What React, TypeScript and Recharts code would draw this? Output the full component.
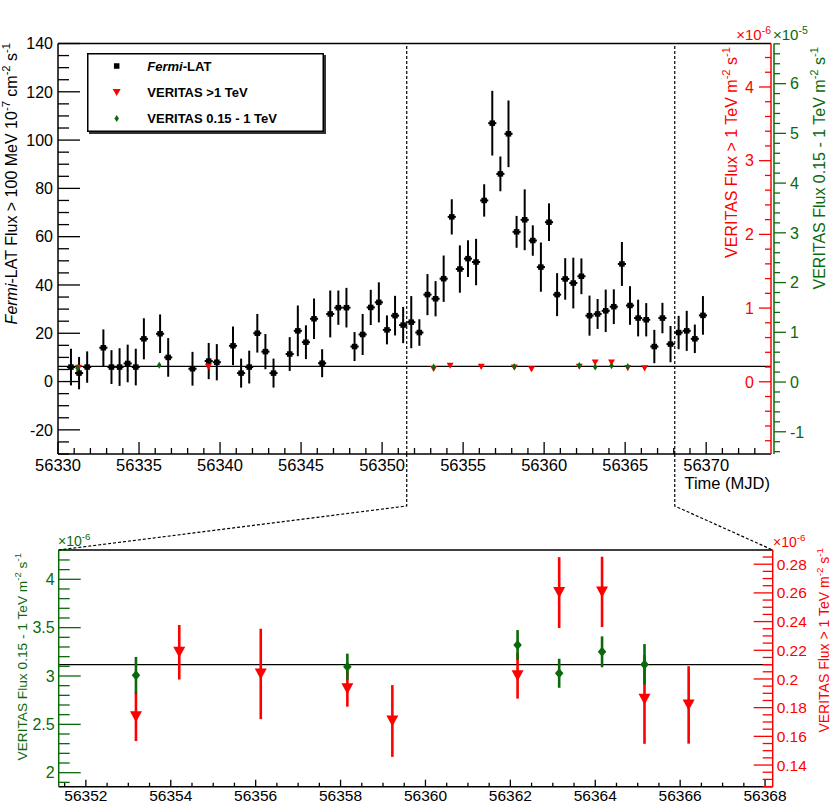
import React from 'react';
import { ComposedChart, Scatter, XAxis, YAxis, ErrorBar, ReferenceLine, Legend } from 'recharts';

const FONT = '"Liberation Sans", Arial, Helvetica, sans-serif';
const BLACK = '#000000';
const RED = '#ff0000';
const GREEN = '#0a6a0a';

const W = 831;
const H = 803;

// Fermi-LAT, 12 h bins (bin centre, MJD); flux > 100 MeV in 1e-7 cm^-2 s^-1
const FERMI_MJD = [
  56330.8, 56331.3, 56331.8, 56332.8, 56333.3, 56333.8, 56334.3, 56334.8, 56335.3, 56336.3,
  56336.8, 56338.3, 56339.3, 56339.8, 56340.8, 56341.3, 56341.8, 56342.3, 56342.8, 56343.3,
  56344.3, 56344.8, 56345.3, 56345.8, 56346.3, 56346.8, 56347.3, 56347.8, 56348.3, 56348.8,
  56349.3, 56349.8, 56350.3, 56350.8, 56351.3, 56351.8, 56352.3, 56352.8, 56353.3, 56353.8,
  56354.3, 56354.8, 56355.3, 56355.8, 56356.3, 56356.8, 56357.3, 56357.8, 56358.3, 56358.8,
  56359.3, 56359.8, 56360.3, 56360.8, 56361.3, 56361.8, 56362.3, 56362.8, 56363.3, 56363.8,
  56364.3, 56364.8, 56365.3, 56365.8, 56366.3, 56366.8, 56367.3, 56367.8, 56368.3, 56368.8,
  56369.3, 56369.8,
];
const FERMI_FLUX = [
  6, 3.5, 6, 14, 6, 6, 7.5, 6, 17.7, 19.8,
  10, 5.3, 8.5, 8, 14.8, 3.5, 6, 20, 12.4, 3.5,
  11.4, 21, 16.3, 26, 7.6, 28, 30.6, 30.6, 14.5, 19.5,
  30.7, 32.8, 21.4, 27.3, 23.4, 24.6, 20.3, 36, 34.3, 42.6,
  68.2, 46.6, 50.9, 49.5, 75, 107, 86, 102.6, 62, 67,
  58.4, 47.4, 66, 36, 42.5, 40.8, 43.6, 27.3, 28, 29.3,
  31, 48.7, 31.5, 26.3, 25.6, 14.5, 26.3, 15.5, 20.3, 21,
  17.7, 27.4,
];
const FERMI_ERR = [
  7.6, 6.7, 6.5, 7.6, 7, 7.8, 7.8, 7.6, 8.5, 8,
  8, 7, 7.5, 7.5, 8, 6, 6.8, 8, 7.3, 6,
  7, 10.5, 7, 8.4, 5.8, 9.7, 7.1, 8.2, 6, 8.5,
  7.3, 8.3, 6, 8.2, 7.5, 10.8, 5.5, 8.5, 7.3, 9.6,
  7.3, 9.8, 7.6, 9.6, 6.7, 13.4, 7.2, 13.8, 6.6, 12.6,
  6.3, 10.2, 7.8, 8.9, 8.6, 10.5, 7.4, 8.3, 6.2, 8.8,
  7.2, 9.1, 8, 7.6, 6.9, 6.9, 6.3, 7.5, 6.9, 8.3,
  5.9, 8,
];
const FERMI_HALF_BIN = 0.25;

// VERITAS > 1 TeV, flux in 1e-6 m^-2 s^-1
const VHE_MJD = [56331.27, 56339.28, 56353.18, 56354.2, 56356.12, 56358.16, 56359.22, 56362.17, 56363.15, 56364.16, 56365.16, 56366.2];
const VHE_FLUX = [0.19, 0.203, 0.1737, 0.2186, 0.2035, 0.1932, 0.1707, 0.2023, 0.2602, 0.2607, 0.1858, 0.1819];
const VHE_ERR = [0.02, 0.02, 0.017, 0.019, 0.0315, 0.0125, 0.025, 0.016, 0.0247, 0.0245, 0.031, 0.027];

// VERITAS 0.15 - 1 TeV, flux in 1e-6 m^-2 s^-1
const HE_MJD = [56331.2, 56336.25, 56353.18, 56358.16, 56362.17, 56363.15, 56364.16, 56365.16];
const HE_FLUX = [2.8, 3.35, 3.007, 3.096, 3.32, 3.028, 3.25, 3.12];
const HE_ERR = [0.2, 0.2, 0.19, 0.135, 0.155, 0.15, 0.16, 0.21];

// constant fit (> 1 TeV scale, 1e-6)
const FIT_LEVEL = 0.21;
// edges of the zoomed window marked on the upper panel
const ZOOM_MARKS = [56351.52, 56368.06];

// upper panel axes
const TOP_X_DOMAIN = [56330, 56374];
const TOP_X_MAJOR = [56330, 56335, 56340, 56345, 56350, 56355, 56360, 56365, 56370];
const FERMI_DOMAIN = [-30, 140];
const FERMI_MAJOR = [-20, 0, 20, 40, 60, 80, 100, 120, 140];
const TOP_VHE_DOMAIN = [-0.98, 4.59];
const TOP_VHE_MAJOR = [0, 1, 2, 3, 4];
const TOP_HE_DOMAIN = [-14.47, 68.07]; // 1e-6 units, labelled in 1e-5
const TOP_HE_MAJOR = [-10, 0, 10, 20, 30, 40, 50, 60];

// lower panel axes
const BOT_X_DOMAIN = [56351.36, 56368.18];
const BOT_X_MAJOR = [56352, 56354, 56356, 56358, 56360, 56362, 56364, 56366, 56368];
const BOT_HE_DOMAIN = [1.855, 4.303];
const BOT_HE_MAJOR = [2, 2.5, 3, 3.5, 4];
const BOT_VHE_DOMAIN = [0.1249, 0.2899];
const BOT_VHE_MAJOR = [0.14, 0.16, 0.18, 0.2, 0.22, 0.24, 0.26, 0.28];

const TOP_PLOT = { left: 58, right: 771, top: 43.5, bottom: 454 };
const BOT_OFFSET = 500;
const BOT_PLOT = { left: 58.7, right: 772.7, top: 550, bottom: 786.7 };

const fermiData = FERMI_MJD.map((x, i) => ({ x, y: FERMI_FLUX[i], err: FERMI_ERR[i], xErr: FERMI_HALF_BIN }));
const vheData = VHE_MJD.map((x, i) => ({ x, y: VHE_FLUX[i], err: VHE_ERR[i] }));
const heData = HE_MJD.map((x, i) => ({ x, y: HE_FLUX[i], err: HE_ERR[i] }));
const inBottom = (p: { x: number }) => p.x >= BOT_X_DOMAIN[0] && p.x <= BOT_X_DOMAIN[1];

function tickList(lo: number, hi: number, step: number): number[] {
  const out: number[] = [];
  const first = Math.ceil(lo / step - 1e-6);
  const last = Math.floor(hi / step + 1e-6);
  for (let i = first; i <= last; i++) out.push(Number((i * step).toFixed(6)));
  return out;
}

const isMajor = (v: number, majors: number[]) => majors.some((m) => Math.abs(m - v) < 1e-6);
const fmt = (v: number) => String(Number(v.toFixed(3)));

type YTickOpts = {
  majors: number[];
  dir: 1 | -1;
  majorLen: number;
  minorLen: number;
  labelDx: number;
  anchor: 'start' | 'end';
  color: string;
  fontSize: number;
  label?: (v: number) => string;
};

function makeYTick(o: YTickOpts) {
  return (props: any) => {
    const { x, y, payload } = props;
    const v = payload.value as number;
    const major = isMajor(v, o.majors);
    return (
      <g>
        <line x1={x} y1={y} x2={x + o.dir * (major ? o.majorLen : o.minorLen)} y2={y} stroke={o.color} strokeWidth={1.3} />
        {major && (
          <text x={x + o.labelDx} y={y} dy="0.36em" textAnchor={o.anchor} fill={o.color} fontSize={o.fontSize} fontFamily={FONT}>
            {o.label ? o.label(v) : fmt(v)}
          </text>
        )}
      </g>
    );
  };
}

function makeXTick(majors: number[], majorLen: number, minorLen: number, labelDy: number, fontSize: number) {
  return (props: any) => {
    const { x, y, payload } = props;
    const v = payload.value as number;
    const major = isMajor(v, majors);
    return (
      <g>
        <line x1={x} y1={y} x2={x} y2={y - (major ? majorLen : minorLen)} stroke={BLACK} strokeWidth={1.3} />
        {major && (
          <text x={x} y={y + labelDy} textAnchor="middle" fill={BLACK} fontSize={fontSize} fontFamily={FONT}>
            {fmt(v)}
          </text>
        )}
      </g>
    );
  };
}

const square = (p: any) => <rect x={p.cx - 2.75} y={p.cy - 2.75} width={5.5} height={5.5} fill={BLACK} />;
const triangle = (w: number, h: number) => (p: any) => (
  <polygon points={`${p.cx - w / 2},${p.cy - h / 2} ${p.cx + w / 2},${p.cy - h / 2} ${p.cx},${p.cy + h / 2}`} fill={RED} />
);
const diamond = (w: number, h: number) => (p: any) => (
  <polygon points={`${p.cx},${p.cy - h / 2} ${p.cx + w / 2},${p.cy} ${p.cx},${p.cy + h / 2} ${p.cx - w / 2},${p.cy}`} fill={GREEN} />
);

type Seg = { t: string; sup?: boolean; italic?: boolean };

function rich(segs: Seg[], size: number) {
  let raised = false;
  return segs.map((s, i) => {
    let dy: number | undefined;
    if (s.sup && !raised) {
      dy = -size * 0.42;
      raised = true;
    } else if (!s.sup && raised) {
      dy = size * 0.42;
      raised = false;
    }
    return (
      <tspan key={i} dy={dy} fontSize={s.sup ? size * 0.7 : size} fontStyle={s.italic ? 'italic' : undefined}>
        {s.t}
      </tspan>
    );
  });
}

const FERMI_TITLE: Seg[] = [
  { t: 'Fermi', italic: true },
  { t: '-LAT Flux > 100 MeV 10' },
  { t: '-7', sup: true },
  { t: ' cm' },
  { t: '-2', sup: true },
  { t: ' s' },
  { t: '-1', sup: true },
];
const VHE_TITLE: Seg[] = [{ t: 'VERITAS Flux > 1 TeV m' }, { t: '-2', sup: true }, { t: ' s' }, { t: '-1', sup: true }];
const HE_TITLE: Seg[] = [{ t: 'VERITAS Flux 0.15 - 1 TeV m' }, { t: '-2', sup: true }, { t: ' s' }, { t: '-1', sup: true }];
const exp10 = (e: string): Seg[] => [{ t: '\u00d710' }, { t: e, sup: true }];

function VTitle({ x, y, segs, size, color }: { x: number; y: number; segs: Seg[]; size: number; color: string }) {
  return (
    <text transform={`translate(${x},${y}) rotate(-90)`} textAnchor="end" fill={color} fontFamily={FONT} style={{ whiteSpace: 'pre' }}>
      {rich(segs, size)}
    </text>
  );
}

function LegendBox() {
  const textProps = { fontFamily: FONT, fontSize: 13, fontWeight: 700 as const, fill: BLACK };
  return (
    <svg width={240} height={82} style={{ display: 'block', overflow: 'visible' }}>
      <rect x={2} y={2} width={237} height={79} fill="#333" />
      <rect x={0.75} y={0.75} width={235.5} height={77.5} fill="#fff" stroke={BLACK} strokeWidth={1.5} />
      {square({ cx: 29.7, cy: 13 })}
      <text x={60.3} y={13} dy="0.36em" {...textProps} style={{ whiteSpace: 'pre' }}>
        <tspan fontStyle="italic">Fermi</tspan>
        <tspan>-LAT</tspan>
      </text>
      {triangle(8, 7)({ cx: 29.7, cy: 39.6 })}
      <text x={60.3} y={39.6} dy="0.36em" {...textProps}>VERITAS &gt;1 TeV</text>
      {diamond(4.5, 7)({ cx: 29.7, cy: 65.6 })}
      <text x={60.3} y={65.6} dy="0.36em" {...textProps}>VERITAS 0.15 - 1 TeV</text>
    </svg>
  );
}

const axisLine = (color: string) => ({ stroke: color, strokeWidth: 1.5 });
const noTickLine = { tickLine: false, tickSize: 0, tickMargin: 0, interval: 0 as const, allowDataOverflow: true };

function TopPanel() {
  return (
    <ComposedChart width={W} height={BOT_OFFSET} margin={{ top: TOP_PLOT.top, right: 0, bottom: 0, left: 0 }}>
      <XAxis
        dataKey="x"
        type="number"
        domain={TOP_X_DOMAIN}
        ticks={tickList(TOP_X_DOMAIN[0], TOP_X_DOMAIN[1] - 1, 1)}
        tick={makeXTick(TOP_X_MAJOR, 12, 6, 17, 16.5)}
        height={BOT_OFFSET - TOP_PLOT.bottom}
        axisLine={axisLine(BLACK)}
        {...noTickLine}
      />
      <YAxis
        yAxisId="fermi"
        dataKey="y"
        type="number"
        domain={FERMI_DOMAIN}
        ticks={tickList(FERMI_DOMAIN[0], FERMI_DOMAIN[1], 5)}
        tick={makeYTick({ majors: FERMI_MAJOR, dir: 1, majorLen: 22, minorLen: 11, labelDx: -5, anchor: 'end', color: BLACK, fontSize: 16 })}
        width={TOP_PLOT.left}
        axisLine={axisLine(BLACK)}
        {...noTickLine}
      />
      <YAxis
        yAxisId="a-vhe"
        orientation="right"
        dataKey="y"
        type="number"
        domain={TOP_VHE_DOMAIN}
        ticks={tickList(TOP_VHE_DOMAIN[0], TOP_VHE_DOMAIN[1], 0.2)}
        tick={makeYTick({ majors: TOP_VHE_MAJOR, dir: -1, majorLen: 12, minorLen: 6, labelDx: -17, anchor: 'end', color: RED, fontSize: 16 })}
        width={3}
        axisLine={axisLine(RED)}
        {...noTickLine}
      />
      <YAxis
        yAxisId="b-he"
        orientation="right"
        dataKey="y"
        type="number"
        domain={TOP_HE_DOMAIN}
        ticks={tickList(TOP_HE_DOMAIN[0], TOP_HE_DOMAIN[1], 2)}
        tick={makeYTick({ majors: TOP_HE_MAJOR, dir: 1, majorLen: 12, minorLen: 6, labelDx: 16, anchor: 'start', color: GREEN, fontSize: 16, label: (v) => fmt(v / 10) })}
        width={W - TOP_PLOT.right - 3}
        axisLine={axisLine(GREEN)}
        {...noTickLine}
      />
      <ReferenceLine yAxisId="fermi" y={FERMI_DOMAIN[1]} stroke={BLACK} strokeWidth={1.5} />
      {ZOOM_MARKS.map((m) => (
        <ReferenceLine key={m} yAxisId="fermi" x={m} stroke={BLACK} strokeWidth={1.2} strokeDasharray="3 2" />
      ))}
      <ReferenceLine yAxisId="a-vhe" y={FIT_LEVEL} stroke={BLACK} strokeWidth={1.3} />
      <Scatter yAxisId="fermi" data={fermiData} shape={square} isAnimationActive={false}>
        <ErrorBar dataKey="err" direction="y" width={0} stroke={BLACK} strokeWidth={2} isAnimationActive={false} />
        <ErrorBar dataKey="xErr" direction="x" width={0} stroke={BLACK} strokeWidth={2} isAnimationActive={false} />
      </Scatter>
      <Scatter yAxisId="a-vhe" data={vheData} shape={triangle(7, 6)} isAnimationActive={false}>
        <ErrorBar dataKey="err" direction="y" width={0} stroke={RED} strokeWidth={1.5} isAnimationActive={false} />
      </Scatter>
      <Scatter yAxisId="b-he" data={heData} shape={diamond(4.5, 7)} isAnimationActive={false}>
        <ErrorBar dataKey="err" direction="y" width={0} stroke={GREEN} strokeWidth={1.5} isAnimationActive={false} />
      </Scatter>
      <Legend
        layout="vertical"
        align="center"
        verticalAlign="middle"
        wrapperStyle={{ left: 87, top: 52.7, width: 240, height: 82 }}
        content={() => <LegendBox />}
      />
    </ComposedChart>
  );
}

function BottomPanel() {
  const chartH = H - BOT_OFFSET;
  return (
    <ComposedChart width={W} height={chartH} margin={{ top: BOT_PLOT.top - BOT_OFFSET, right: 0, bottom: 0, left: 0 }}>
      <XAxis
        dataKey="x"
        type="number"
        domain={BOT_X_DOMAIN}
        ticks={tickList(BOT_X_DOMAIN[0], BOT_X_DOMAIN[1], 0.5)}
        tick={makeXTick(BOT_X_MAJOR, 7, 4, 14.5, 15.5)}
        height={H - BOT_PLOT.bottom}
        axisLine={axisLine(BLACK)}
        {...noTickLine}
      />
      <YAxis
        yAxisId="he"
        dataKey="y"
        type="number"
        domain={BOT_HE_DOMAIN}
        ticks={tickList(BOT_HE_DOMAIN[0], BOT_HE_DOMAIN[1], 0.1)}
        tick={makeYTick({ majors: BOT_HE_MAJOR, dir: 1, majorLen: 22, minorLen: 11, labelDx: -4, anchor: 'end', color: GREEN, fontSize: 16 })}
        width={BOT_PLOT.left}
        axisLine={axisLine(GREEN)}
        {...noTickLine}
      />
      <YAxis
        yAxisId="vhe"
        orientation="right"
        dataKey="y"
        type="number"
        domain={BOT_VHE_DOMAIN}
        ticks={tickList(BOT_VHE_DOMAIN[0], BOT_VHE_DOMAIN[1], 0.005)}
        tick={makeYTick({ majors: BOT_VHE_MAJOR, dir: -1, majorLen: 19, minorLen: 10, labelDx: 4, anchor: 'start', color: RED, fontSize: 15.5 })}
        width={W - BOT_PLOT.right}
        axisLine={axisLine(RED)}
        {...noTickLine}
      />
      <ReferenceLine yAxisId="he" y={BOT_HE_DOMAIN[1]} stroke={BLACK} strokeWidth={1.5} />
      <ReferenceLine yAxisId="vhe" y={FIT_LEVEL} stroke={BLACK} strokeWidth={1.3} />
      <Scatter yAxisId="vhe" data={vheData.filter(inBottom)} shape={triangle(12, 11)} isAnimationActive={false}>
        <ErrorBar dataKey="err" direction="y" width={0} stroke={RED} strokeWidth={2.6} isAnimationActive={false} />
      </Scatter>
      <Scatter yAxisId="he" data={heData.filter(inBottom)} shape={diamond(8.5, 10)} isAnimationActive={false}>
        <ErrorBar dataKey="err" direction="y" width={0} stroke={GREEN} strokeWidth={2.6} isAnimationActive={false} />
      </Scatter>
    </ComposedChart>
  );
}

function Overlay() {
  const topX = (m: number) =>
    TOP_PLOT.left + ((m - TOP_X_DOMAIN[0]) / (TOP_X_DOMAIN[1] - TOP_X_DOMAIN[0])) * (TOP_PLOT.right - TOP_PLOT.left);
  const kneeY = 506;
  const [xl, xr] = ZOOM_MARKS.map(topX);
  return (
    <svg width={W} height={H} style={{ position: 'absolute', left: 0, top: 0, pointerEvents: 'none' }}>
      <polyline
        points={`${xl},${TOP_PLOT.bottom} ${xl},${kneeY} ${BOT_PLOT.left},${BOT_PLOT.top}`}
        fill="none"
        stroke={BLACK}
        strokeWidth={1.2}
        strokeDasharray="3 2"
      />
      <polyline
        points={`${xr},${TOP_PLOT.bottom} ${xr},${kneeY} ${BOT_PLOT.right},${BOT_PLOT.top}`}
        fill="none"
        stroke={BLACK}
        strokeWidth={1.2}
        strokeDasharray="3 2"
      />
      <VTitle x={16.5} y={43} segs={FERMI_TITLE} size={16} color={BLACK} />
      <VTitle x={737} y={47} segs={VHE_TITLE} size={16} color={RED} />
      <VTitle x={825} y={47} segs={HE_TITLE} size={16} color={GREEN} />
      <VTitle x={27} y={553} segs={HE_TITLE} size={13.7} color={GREEN} />
      <VTitle x={829} y={548} segs={VHE_TITLE} size={14} color={RED} />
      <text x={771} y={40} textAnchor="end" fill={RED} fontFamily={FONT}>{rich(exp10('-6'), 15)}</text>
      <text x={773} y={40} fill={GREEN} fontFamily={FONT}>{rich(exp10('-5'), 15)}</text>
      <text x={58} y={546} fill={GREEN} fontFamily={FONT}>{rich(exp10('-6'), 14)}</text>
      <text x={773} y={547} fill={RED} fontFamily={FONT}>{rich(exp10('-6'), 14)}</text>
      <text x={770} y={489} textAnchor="end" fill={BLACK} fontFamily={FONT} fontSize={16.5}>Time (MJD)</text>
    </svg>
  );
}

export default function App() {
  return (
    <div style={{ position: 'absolute', left: 0, top: 0, width: W, height: H, background: '#fff', fontFamily: FONT, overflow: 'hidden' }}>
      <div style={{ position: 'absolute', left: 0, top: 0 }}>
        <TopPanel />
      </div>
      <div style={{ position: 'absolute', left: 0, top: BOT_OFFSET }}>
        <BottomPanel />
      </div>
      <Overlay />
    </div>
  );
}
